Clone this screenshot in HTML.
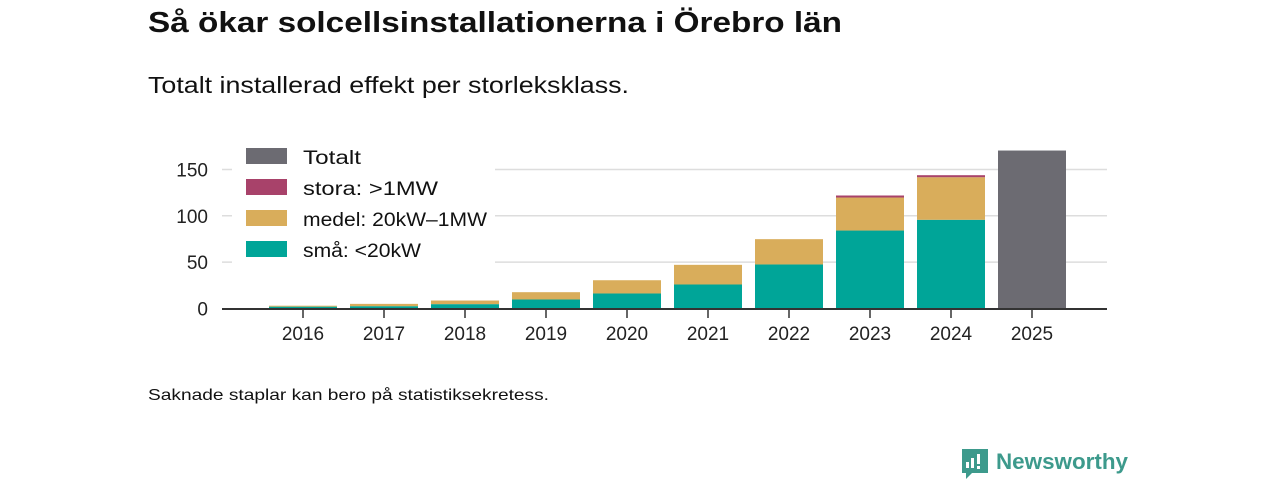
<!DOCTYPE html>
<html><head><meta charset="utf-8"><style>
html,body{margin:0;padding:0;background:#fff;}
svg{display:block;font-family:"Liberation Sans",sans-serif;}
</style></head><body>
<svg id="chart" width="1280" height="480" viewBox="0 0 1280 480" xmlns="http://www.w3.org/2000/svg">
<text x="148" y="32" font-size="29" font-weight="bold" fill="#111" textLength="694" lengthAdjust="spacingAndGlyphs">Så ökar solcellsinstallationerna i Örebro län</text>
<text x="148" y="93" font-size="23" fill="#111" textLength="481" lengthAdjust="spacingAndGlyphs">Totalt installerad effekt per storleksklass.</text>
<g id="grid"></g>
<g id="bars"></g>
<g id="legend"></g>
<g id="axes"></g>
<text x="148" y="400" font-size="16" fill="#111" textLength="401" lengthAdjust="spacingAndGlyphs">Saknade staplar kan bero på statistiksekretess.</text>
<g>
<path d="M962 449 h26 v24 h-16 l-6 6 v-6 h-4 z" fill="#3d9a8c"/>
<rect x="966" y="462" width="3" height="6" fill="#fff"/><rect x="971" y="458" width="3" height="10" fill="#fff"/><rect x="977" y="454" width="3" height="10" fill="#fff"/><rect x="977" y="466" width="3" height="3" fill="#fff"/>
<text x="996" y="469" font-size="22" font-weight="bold" fill="#3d9a8c" textLength="132" lengthAdjust="spacingAndGlyphs">Newsworthy</text>
</g>
</svg>
<script>
const years=["2016","2017","2018","2019","2020","2021","2022","2023","2024","2025"];
const sma=[2,2.5,4.7,9.7,16.2,25.9,47.5,84.1,95.7,0];
const medel=[1,2.5,3.9,7.9,14.3,21.2,27.3,35.6,45.9,0];
const stora=[0,0,0,0,0,0,0,2.2,2.2,0];
const totalt=[0,0,0,0,0,0,0,0,0,170.4];
const yTicks=[0,50,100,150];
const NS="http://www.w3.org/2000/svg";
const y0=308.5, k=0.927;
const yS=v=>y0-v*k;
const xS=i=>303+i*81.0;
const bw=68;
function mk(t,a,p){const e=document.createElementNS(NS,t);for(const n in a)e.setAttribute(n,a[n]);p.appendChild(e);return e;}
const grid=document.getElementById('grid'),bars=document.getElementById('bars'),leg=document.getElementById('legend'),axes=document.getElementById('axes');
yTicks.forEach(v=>{
 if(v>0){const l=mk('line',{x1:222,x2:1107,y1:yS(v),y2:yS(v),stroke:'#ddd','stroke-width':1.5},grid);
 
 }
 const t=mk('text',{x:208,y:yS(v)+7,'text-anchor':'end','font-size':19,fill:'#222'},axes);t.textContent=v;
 
 
});
const series=[[sma,'#00a598','sma'],[medel,'#d9ad5b','medel'],[stora,'#a8426a','stora'],[totalt,'#6c6b72','totalt']];
years.forEach((y,i)=>{
 let acc=0;
 series.forEach(([arr,c,n])=>{
  const v=arr[i]; if(v<=0)return;
  const r=mk('rect',{x:xS(i)-bw/2,y:yS(acc+v),width:bw,height:v*k,fill:c},bars);
  
  
  acc+=v;
 });
 mk('line',{x1:xS(i),x2:xS(i),y1:310,y2:318,stroke:'#333','stroke-width':1.5},axes);
 const t=mk('text',{x:xS(i),y:340,'text-anchor':'middle','font-size':19,fill:'#222'},axes);t.textContent=y;
 
 
});
mk('line',{x1:222,x2:1107,y1:309,y2:309,stroke:'#333','stroke-width':2},axes);
mk('rect',{x:232,y:143,width:263,height:120,fill:'#fff'},leg);
const legItems=[['Totalt','#6c6b72',58],['stora: >1MW','#a8426a',135],['medel: 20kW–1MW','#d9ad5b',184],['små: <20kW','#00a598',118]];
legItems.forEach(([lab,c,w],j)=>{
 const g=mk('g',{},leg);
 
 
 const yy=148+j*31;
 mk('rect',{x:246,y:yy,width:41,height:16,fill:c},g);
 const t=mk('text',{x:303,y:yy+16,'font-size':19,fill:'#111',textLength:w,lengthAdjust:'spacingAndGlyphs'},g);t.textContent=lab;
});
</script>
</body></html>
